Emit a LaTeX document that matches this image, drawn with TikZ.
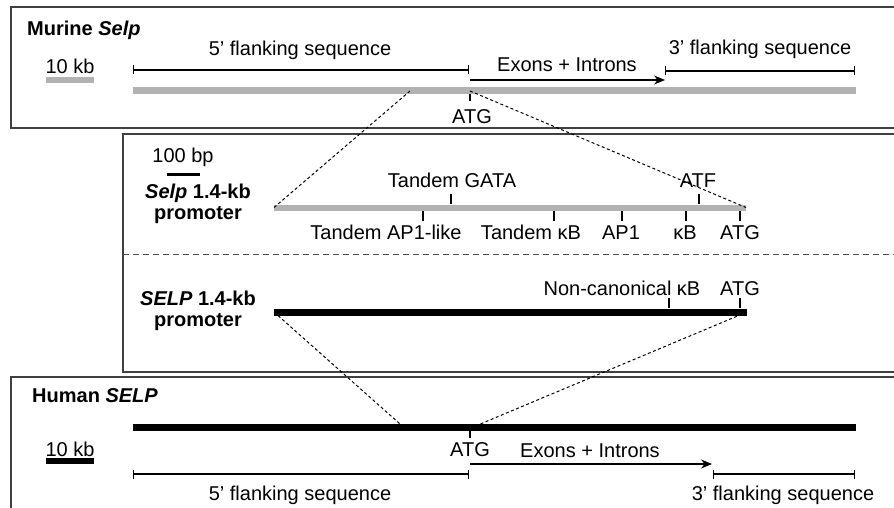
\documentclass[tikz,border=0pt]{standalone}
\usepackage{fontspec}
\setmainfont{Liberation Sans}
\usetikzlibrary{arrows.meta}
\tikzset{
  lbl/.style={anchor=base, inner sep=0pt, font=\fontsize{20}{21}\selectfont},
  ttl/.style={lbl, align=center, font=\fontsize{20}{21}\selectfont\bfseries},
  panel/.style={draw=black!75, line width=2pt},
  sepln/.style={draw=black!70, line width=1pt, dash pattern=on 6pt off 4pt},
  zoomln/.style={line width=1pt, dash pattern=on 3pt off 2.5pt},
  mbar/.style={draw=black!30, line width=7pt},
  hbar/.style={draw=black, line width=7pt},
  span/.style={line width=1.4pt, {Bar[width=9pt]}-{Bar[width=9pt]}},
  exarrow/.style={line width=1.4pt, -{Stealth[length=11pt, width=9pt]}},
  tickln/.style={line width=1.3pt},
}
\begin{document}
\begin{tikzpicture}[x=1pt, y=-1pt]
    \clip (0,0) rectangle (894,508);

    % Murine Selp locus
    \draw[panel] (900,7) -| (11,128) -- (900,128);
    \node[ttl, anchor=base west] (murtitle) at (27,36) {Murine \textit{Selp}};
    \node[lbl] (murkb) at (70,74) {10 kb};
    \draw[mbar, line width=6pt] (46,80) -- (94,80);
    \coordinate (mL) at (133,91);
    \coordinate (mR) at (856,91);
    \coordinate (mZ) at (410,91);
    \coordinate (mA) at (470,91);
    \draw[mbar] (mL) -- (mR);
    \draw[span] (133,70) -- (469,70);
    \node[lbl] (murfive) at (300,56) {5' flanking sequence};
    \draw[exarrow] (470,80) -- (665,80);
    \node[lbl] (murexon) at (567,72) {Exons + Introns};
    \draw[span] (665,71) -- (855,71);
    \node[lbl] (murthree) at (760,55) {3' flanking sequence};
    \draw[tickln] (470,94) -- (470,101);
    \node[lbl] (muratg) at (472,124) {ATG};

    % promoters
    \draw[panel] (900,134) -| (123,372) -- (900,372);
    \draw[sepln] (123,254) -- (900,254);
    \node[lbl] (bpkb) at (183,163) {100 bp};
    \draw[line width=3pt] (167,174.5) -- (200,174.5);
    \node[ttl] (selpname) at (198,219) {\textit{Selp} 1.4-kb\\promoter};
    \coordinate (sL) at (274,207.5);
    \coordinate (sR) at (746,207.5);
    \draw[mbar, line width=6pt] (sL) -- (sR);
    \draw[tickln] (451,204) -- (451,194);
    \draw[tickln] (699,204) -- (699,194);
    \node[lbl] (gata) at (452,187) {Tandem GATA};
    \node[lbl] (atf) at (698,187) {ATF};
    \foreach \x in {423,554,622,686,740}
        \draw[tickln] (\x,211) -- (\x,221);
    \node[lbl] (apone) at (386,239) {Tandem AP1-like};
    \node[lbl] (tkb) at (531,239) {Tandem κB};
    \node[lbl] (ap) at (621,239) {AP1};
    \node[lbl] (kb) at (685,239) {κB};
    \node[lbl] (selpatg) at (740,239) {ATG};

    \node[ttl] (selpcap) at (198,326) {\textit{SELP} 1.4-kb\\promoter};
    \coordinate (hpL) at (274,312);
    \coordinate (hpR) at (747,312);
    \draw[hbar] (hpL) -- (hpR);
    \draw[tickln] (669,308) -- (669,298);
    \draw[tickln] (740,308) -- (740,298);
    \node[lbl] (nckb) at (622,295) {Non-canonical κB};
    \node[lbl] (hpatg) at (740,295) {ATG};

    % Human SELP locus
    \draw[panel] (900,377) -| (11,515);
    \node[ttl, anchor=base west] (humtitle) at (32,402) {Human \textit{SELP}};
    \coordinate (hL) at (133,427.5);
    \coordinate (hR) at (856,427.5);
    \coordinate (hZ) at (404,427.5);
    \coordinate (hA) at (472,427.5);
    \draw[hbar] (hL) -- (hR);
    \node[lbl] (humkb) at (70,456) {10 kb};
    \draw[hbar, line width=6pt] (46,461) -- (94,461);
    \draw[tickln] (470,431) -- (470,438);
    \node[lbl] (humatg) at (470,456) {ATG};
    \draw[exarrow] (470,464) -- (712,464);
    \node[lbl] (humexon) at (590,457) {Exons + Introns};
    \draw[span] (133,474) -- (469,474);
    \node[lbl] (humfive) at (300,500) {5' flanking sequence};
    \draw[span] (713,474) -- (855,474);
    \node[lbl] (humthree) at (783,500) {3' flanking sequence};

    % zoom lines
    \draw[zoomln] (mZ) -- (sL);
    \draw[zoomln] (mA) -- (sR);
    \draw[zoomln] (hpL) -- (hZ);
    \draw[zoomln] (hpR) -- (hA);

\end{tikzpicture}
\end{document}
